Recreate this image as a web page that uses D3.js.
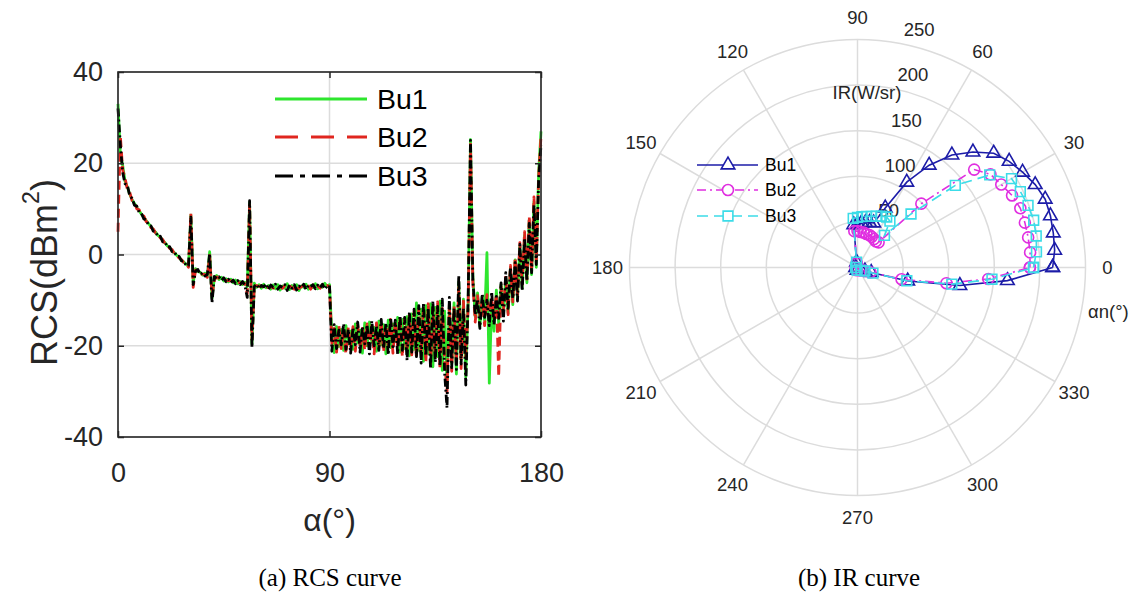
<!DOCTYPE html>
<html>
<head>
<meta charset="utf-8">
<script src="https://cdn.jsdelivr.net/npm/d3@7"></script>
<style>
  html, body { margin: 0; padding: 0; background: #fff; }
  svg { display: block; }
</style>
</head>
<body>
<svg id="fig" width="1146" height="592"></svg>
<script>
// ---------- RCS curve data (one sample per degree, 0..180) ----------
const rcsAngles = d3.range(0, 181);
const rcsXTicks = [0, 90, 180];
const rcsYTicks = [-40, -20, 0, 20, 40];
const seriesNames = ["Bu1", "Bu2", "Bu3"];

const rcsBu1 = [
  33, 22, 19.5, 16, 14.8, 13.2, 12, 11.2, 10.3, 9.6,
  8.8, 8.2, 7.4, 6.8, 6.1, 5.4, 4.9, 4.2, 3.8, 3.1,
  2.6, 1.9, 1.5, 0.9, 0.4, -0.2, -0.6, -1.3, -1.6, -2.2,
  -2.5, 8.6, -6.2, -3.1, -3.7, -3.9, -4.5, -4.1, -4.8, 0.6,
  -9.6, -5.2, -4.6, -5.5, -5.0, -5.8, -5.3, -6.0, -5.4, -6.2,
  -5.6, -6.4, -5.9, -6.6, -6.1, -7.0, 11.4, -19.6, -6.3, -7.2,
  -6.6, -7.4, -6.5, -7.3, -6.8, -7.6, -6.7, -7.5, -6.6, -7.8,
  -6.9, -7.4, -6.4, -7.7, -6.8, -7.3, -6.6, -7.9, -6.9, -7.2,
  -6.5, -7.6, -6.8, -7.3, -6.4, -7.5, -6.9, -7.2, -6.3, -7.0,
  -6.6, -17.5, -21.5, -15.8, -20.2, -16.4, -21.0, -15.6, -19.6, -16.8,
  -20.8, -15.2, -19.4, -16.6, -21.6, -15.0, -20.0, -14.8, -19.2, -16.0,
  -21.2, -14.6, -19.8, -15.4, -21.8, -14.4, -20.4, -15.2, -19.0, -13.8,
  -21.4, -14.2, -20.6, -13.6, -22.2, -13.0, -20.8, -10.6, -21.0, -12.0,
  -23.4, -11.2, -21.8, -10.8, -24.6, -11.6, -22.4, -10.2, -25.4, -12.4,
  -28.4, -11.0, -24.0, -10.6, -26.2, -6.0, -22.8, -9.8, -26.8, -10.4,
  25.2, -4.8, -13.6, -8.4, -15.8, -9.2, -14.6, 0.4, -28.2, -10.6,
  -16.8, -7.8, -15.2, -6.6, -13.4, -5.2, -12.8, -3.0, -11.0, -1.2,
  -9.6, 1.8, -7.4, 4.2, -6.2, 7.6, -4.4, 11.6, -2.8, 18.0,
  27.0
];

const rcsBu2 = [
  5, 26, 18.5, 16.8, 14.2, 13.6, 11.8, 11.4, 10.0, 9.8,
  8.6, 8.4, 7.2, 7.0, 5.9, 5.6, 4.7, 4.4, 3.6, 3.3,
  2.4, 2.1, 1.3, 1.1, 0.2, -0.1, -0.8, -1.1, -1.8, -2.0,
  -2.8, 9.0, -7.2, -3.4, -3.5, -4.2, -4.3, -4.4, -5.0, -0.2,
  -9.0, -5.6, -4.9, -5.2, -5.4, -5.5, -5.7, -5.7, -5.8, -5.9,
  -6.0, -6.1, -6.2, -6.3, -6.4, -8.6, 10.8, -18.6, -6.9, -6.8,
  -7.0, -6.9, -7.2, -6.8, -7.3, -7.0, -7.4, -6.9, -7.3, -7.1,
  -7.4, -6.8, -7.5, -6.9, -7.2, -7.6, -6.8, -7.4, -7.1, -6.7,
  -7.3, -6.9, -7.6, -6.7, -7.2, -6.9, -7.4, -6.6, -7.1, -6.8,
  -7.0, -19.5, -16.2, -21.4, -15.6, -20.6, -16.4, -21.8, -16.0, -20.2,
  -15.8, -21.2, -15.4, -20.4, -16.2, -21.0, -15.2, -20.6, -15.6, -21.8,
  -15.0, -20.2, -14.8, -21.4, -15.6, -20.0, -14.2, -21.6, -14.6, -20.4,
  -13.8, -22.4, -14.0, -21.2, -13.2, -22.0, -12.4, -22.8, -11.8, -21.6,
  -11.4, -23.6, -10.8, -24.0, -11.6, -22.6, -10.4, -25.2, -11.8, -23.2,
  -30.2, -10.8, -25.6, -11.4, -23.8, -7.2, -25.0, -10.2, -22.6, -11.6,
  24.2, -6.2, -14.8, -9.0, -13.4, -10.2, -15.6, -8.8, -14.2, -9.6,
  -13.8, -8.6, -26.8, -7.0, -12.6, -4.6, -13.2, -2.4, -10.4, -0.6,
  -8.8, 2.6, -6.6, 5.0, -5.4, 8.4, -3.6, 12.6, -1.8, 17.0,
  26.0
];

const rcsBu3 = [
  32, 24, 18, 15.5, 15.2, 12.8, 12.3, 10.8, 10.6, 9.2,
  9.0, 7.8, 7.6, 6.4, 6.3, 5.1, 5.0, 3.9, 4.0, 2.8,
  2.8, 1.6, 1.7, 0.6, 0.6, -0.4, -0.4, -1.4, -1.4, -2.4,
  -2.4, 8.2, -6.6, -3.6, -3.3, -4.4, -4.0, -4.7, -4.4, 0.2,
  -10.6, -4.8, -5.3, -4.9, -5.7, -5.1, -6.0, -5.4, -6.2, -5.6,
  -6.4, -5.7, -6.6, -5.9, -6.8, -9.4, 11.8, -20.4, -7.0, -6.5,
  -7.5, -6.8, -7.1, -6.4, -7.7, -6.7, -7.2, -6.5, -7.6, -6.9,
  -7.2, -6.6, -7.9, -6.7, -7.4, -6.6, -7.8, -6.9, -7.3, -6.5,
  -7.7, -6.8, -7.1, -6.6, -7.5, -6.7, -7.3, -6.5, -7.6, -6.9,
  -6.8, -21.2, -15.4, -20.6, -16.6, -19.8, -15.2, -20.8, -16.4, -21.6,
  -16.0, -19.8, -14.8, -21.4, -15.8, -19.6, -15.4, -21.8, -14.6, -20.0,
  -15.6, -21.0, -14.2, -20.6, -15.0, -22.0, -13.8, -20.2, -14.4, -21.8,
  -13.4, -21.0, -13.8, -23.2, -12.6, -21.4, -12.0, -22.4, -11.2, -23.8,
  -10.6, -22.2, -11.8, -25.0, -10.2, -23.6, -11.4, -24.4, -9.8, -26.0,
  -33.6, -9.4, -24.8, -11.6, -25.2, -4.6, -24.0, -11.8, -28.6, -9.8,
  25.0, -5.6, -13.2, -9.8, -16.2, -8.6, -13.8, -10.0, -15.6, -8.2,
  -15.4, -9.2, -14.0, -6.2, -14.6, -4.0, -11.8, -2.8, -9.6, -1.8,
  -10.2, 2.2, -8.0, 3.6, -5.8, 6.8, -4.0, 10.8, -2.2, 16.4,
  24.0
];

// ---------- IR curve data (polar: aspect angle in degrees, IR in W/sr) ----------
const irAngles = [0, 5, 10, 15, 20, 25, 30, 35, 40, 45, 50, 55, 60, 65, 70, 75, 80, 85, 90, 95,
                  100, 180, 260, 320, 335, 340, 345, 350, 355, 360];
const irBu1 = [214, 217, 218, 219, 219, 215, 209, 203, 195, 179, 161, 137, 108, 72, 52, 51, 50, 49, 48, 47,
               6, 2, 3, 5, 9, 16, 57, 114, 165, 214];
const irBu2 = [189, 190, 190, 190, 190, 187, 182, 178, 167, 99, 36, 35, 36, 37, 38, 38, 39, 39, 40, 40,
               5, 2, 3, 5, 8, 15, 50, 99, 144, 189];
const irBu3 = [193, 197, 199, 200, 199, 197, 195, 177, 140, 83, 46, 62, 64, 62, 60, 58, 57, 56, 55, 54,
               6, 2, 3, 5, 9, 18, 56, 105, 148, 193];
const ringTicks = [50, 100, 150, 200, 250];
const spokeAngles = [0, 30, 60, 90, 120, 150, 180, 210, 240, 270, 300, 330];

// ---------- shared styling ----------
const SANS = "'Liberation Sans', Arial, Helvetica, sans-serif";
const SERIF = "'Liberation Serif', 'Times New Roman', serif";
const TXT = "#262626";
const GRID = "#dcdcdc";
const plainNumber = d => String(d);   // keep ASCII hyphen for negatives

const svg = d3.select("#fig");

// =====================================================================
// (a) RCS curve
// =====================================================================
const box = { left: 118, right: 541, top: 72, bottom: 437 };
const x = d3.scaleLinear().domain([0, 180]).range([box.left, box.right]);
const y = d3.scaleLinear().domain([-40, 40]).range([box.bottom, box.top]);

const gA = svg.append("g");

// grid lines
gA.append("g").selectAll("line").data(rcsYTicks).join("line")
  .attr("x1", box.left).attr("x2", box.right)
  .attr("y1", d => y(d)).attr("y2", d => y(d))
  .attr("stroke", GRID).attr("stroke-width", 1.5);
gA.append("g").selectAll("line").data(rcsXTicks).join("line")
  .attr("x1", d => x(d)).attr("x2", d => x(d))
  .attr("y1", box.top).attr("y2", box.bottom)
  .attr("stroke", GRID).attr("stroke-width", 1.5);

// the three curves
const rcsSeries = [
  { name: seriesNames[0], values: rcsBu1, color: "#2ee62e", dash: null },
  { name: seriesNames[1], values: rcsBu2, color: "#e0261f", dash: "23,13" },
  { name: seriesNames[2], values: rcsBu3, color: "#000000", dash: "18,7,5,7" }
];
const rcsLine = d3.line().x((d, i) => x(rcsAngles[i])).y(d => y(d));
const curveDash = { "Bu1": null, "Bu2": "9,5", "Bu3": "8,3,2,3" };
rcsSeries.forEach(s => {
  gA.append("path").datum(s.values)
    .attr("d", rcsLine)
    .attr("fill", "none")
    .attr("stroke", s.color)
    .attr("stroke-width", 2.8)
    .attr("stroke-linejoin", "round")
    .attr("stroke-dasharray", curveDash[s.name]);
});

// axes box
gA.append("rect")
  .attr("x", box.left).attr("y", box.top)
  .attr("width", box.right - box.left).attr("height", box.bottom - box.top)
  .attr("fill", "none").attr("stroke", TXT).attr("stroke-width", 1.6);

function styleAxis(g, size) {
  g.select(".domain").remove();
  g.attr("font-family", SANS).attr("font-size", size);
  g.selectAll(".tick line").attr("stroke", TXT).attr("stroke-width", 1.5);
  g.selectAll(".tick text").attr("fill", TXT);
}

const axLeft = gA.append("g").attr("transform", `translate(${box.left},0)`)
  .call(d3.axisLeft(y).tickValues(rcsYTicks).tickFormat(plainNumber).tickSize(-6).tickPadding(15));
styleAxis(axLeft, 27);
const axRight = gA.append("g").attr("transform", `translate(${box.right},0)`)
  .call(d3.axisRight(y).tickValues(rcsYTicks).tickSize(-6).tickFormat(""));
styleAxis(axRight, 27);
const axBottom = gA.append("g").attr("transform", `translate(0,${box.bottom})`)
  .call(d3.axisBottom(x).tickValues(rcsXTicks).tickFormat(plainNumber).tickSize(-6).tickPadding(26));
styleAxis(axBottom, 27);
const axTop = gA.append("g").attr("transform", `translate(0,${box.top})`)
  .call(d3.axisTop(x).tickValues(rcsXTicks).tickSize(-6).tickFormat(""));
styleAxis(axTop, 27);

// axis titles
const yTitle = gA.append("text")
  .attr("transform", `translate(44,${(box.top + box.bottom) / 2 + 18}) rotate(-90)`)
  .attr("text-anchor", "middle").attr("dy", "0.35em")
  .attr("font-family", SANS).attr("font-size", 36).attr("fill", TXT);
yTitle.append("tspan").text("RCS(dBm");
yTitle.append("tspan").attr("font-size", 23).attr("dy", "-0.75em").text("2");
yTitle.append("tspan").attr("dy", "0.5em").text(")");

gA.append("text")
  .attr("x", x(90)).attr("y", 520)
  .attr("text-anchor", "middle").attr("dominant-baseline", "central")
  .attr("font-family", SANS).attr("font-size", 32).attr("fill", TXT)
  .text("α(°)");

// legend
const legA = gA.append("g");
rcsSeries.forEach((s, i) => {
  const ly = [99, 137, 176][i];
  legA.append("line")
    .attr("x1", 275).attr("x2", 367).attr("y1", ly).attr("y2", ly)
    .attr("stroke", s.color).attr("stroke-width", 3)
    .attr("stroke-dasharray", s.dash);
  legA.append("text")
    .attr("x", 377).attr("y", ly).attr("dominant-baseline", "central")
    .attr("font-family", SANS).attr("font-size", 28.5).attr("fill", "#000")
    .text(s.name);
});

// caption
svg.append("text")
  .attr("x", 330).attr("y", 577)
  .attr("text-anchor", "middle").attr("dominant-baseline", "central")
  .attr("font-family", SERIF).attr("font-size", 25).attr("fill", "#000")
  .text("(a) RCS curve");

// =====================================================================
// (b) IR curve — polar plot
// =====================================================================
const cx = 857.5, cy = 267.5, R = 228;
const r = d3.scaleLinear().domain([0, 250]).range([0, R]);
const rad = deg => deg * Math.PI / 180;
const px = (deg, v) => r(v) * Math.cos(rad(deg));
const py = (deg, v) => -r(v) * Math.sin(rad(deg));

const gB = svg.append("g").attr("transform", `translate(${cx},${cy})`);

// rings and spokes
gB.append("g").selectAll("circle").data(ringTicks).join("circle")
  .attr("r", d => r(d)).attr("fill", "none")
  .attr("stroke", GRID).attr("stroke-width", 1.5);
gB.append("g").selectAll("line").data(spokeAngles).join("line")
  .attr("x1", 0).attr("y1", 0)
  .attr("x2", d => px(d, 250)).attr("y2", d => py(d, 250))
  .attr("stroke", GRID).attr("stroke-width", 1.5);

// angle labels
gB.append("g").selectAll("text").data(spokeAngles).join("text")
  .attr("x", d => Math.cos(rad(d)) * (R + 22))
  .attr("y", d => -Math.sin(rad(d)) * (R + 22))
  .attr("text-anchor", "middle").attr("dominant-baseline", "central")
  .attr("font-family", SANS).attr("font-size", 18.5).attr("fill", TXT)
  .text(d => d);

// radial labels along 82°
gB.append("g").selectAll("text").data(ringTicks).join("text")
  .attr("x", d => px(82, d) + 14.5)
  .attr("y", d => py(82, d) - 12)
  .attr("text-anchor", "start").attr("dominant-baseline", "central")
  .attr("font-family", SANS).attr("font-size", 18.5).attr("fill", TXT)
  .text(d => d);

gB.append("text")
  .attr("x", 867 - cx).attr("y", 92 - cy)
  .attr("text-anchor", "middle").attr("dominant-baseline", "central")
  .attr("font-family", SANS).attr("font-size", 18.5).attr("fill", TXT)
  .text("IR(W/sr)");
gB.append("text")
  .attr("x", 1088 - cx).attr("y", 311 - cy)
  .attr("text-anchor", "start").attr("dominant-baseline", "central")
  .attr("font-family", SANS).attr("font-size", 18.5).attr("fill", TXT)
  .text("αn(°)");

// series
const irSeries = [
  { name: seriesNames[0], values: irBu1, color: "#1c1ca8", dash: null,      symbol: d3.symbolTriangle, size: 80 },
  { name: seriesNames[1], values: irBu2, color: "#e02ee0", dash: "9,4,2,4", symbol: d3.symbolCircle,   size: 95 },
  { name: seriesNames[2], values: irBu3, color: "#3cdce8", dash: "11,6",    symbol: d3.symbolSquare,   size: 95 }
];
const radial = d3.lineRadial()
  .angle(d => rad(90 - d[0]))
  .radius(d => r(d[1]));

irSeries.forEach(s => {
  const pts = irAngles.map((a, i) => [a, s.values[i]]);
  gB.append("path").datum(pts)
    .attr("d", radial)
    .attr("fill", "none")
    .attr("stroke", s.color).attr("stroke-width", 1.6)
    .attr("stroke-dasharray", s.dash);
  const sym = d3.symbol().type(s.symbol).size(s.size);
  gB.append("g").selectAll("path").data(pts).join("path")
    .attr("transform", d => `translate(${px(d[0], d[1])},${py(d[0], d[1])})`)
    .attr("d", sym)
    .attr("fill", "none").attr("stroke", s.color).attr("stroke-width", 1.6);
});

// legend
const legB = svg.append("g");
irSeries.forEach((s, i) => {
  const ly = [165, 190, 216][i];
  legB.append("line")
    .attr("x1", 697).attr("x2", 758).attr("y1", ly).attr("y2", ly)
    .attr("stroke", s.color).attr("stroke-width", 1.6)
    .attr("stroke-dasharray", s.dash);
  legB.append("path")
    .attr("transform", `translate(728,${ly})`)
    .attr("d", d3.symbol().type(s.symbol).size(s.size)())
    .attr("fill", "#fff").attr("stroke", s.color).attr("stroke-width", 1.6);
  legB.append("text")
    .attr("x", 765).attr("y", ly).attr("dominant-baseline", "central")
    .attr("font-family", SANS).attr("font-size", 17.5).attr("fill", "#000")
    .text(s.name);
});

// caption
svg.append("text")
  .attr("x", 859).attr("y", 577)
  .attr("text-anchor", "middle").attr("dominant-baseline", "central")
  .attr("font-family", SERIF).attr("font-size", 25).attr("fill", "#000")
  .text("(b) IR curve");
</script>
</body>
</html>
